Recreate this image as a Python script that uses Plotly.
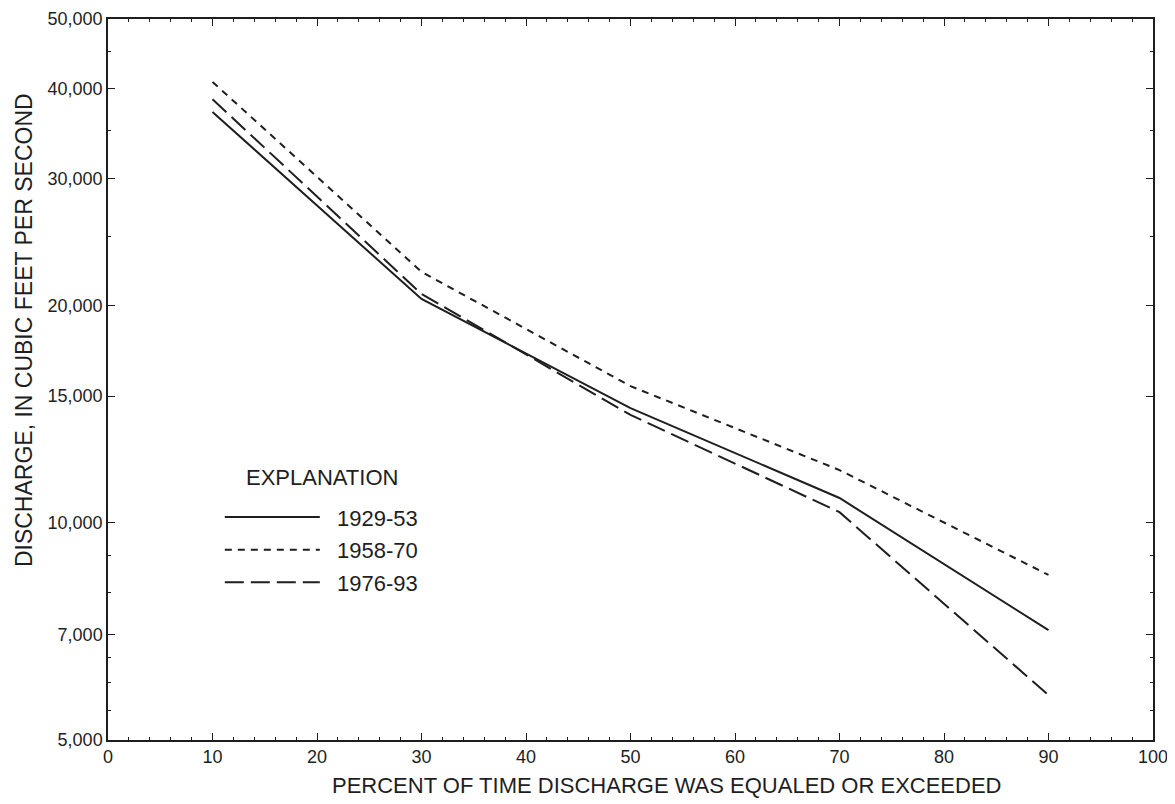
import plotly.graph_objects as go

percent = [10, 30, 50, 70, 90]
q_1929_53 = [37150, 20450, 14430, 10830, 7100]
q_1958_70 = [40900, 22300, 15480, 11840, 8470]
q_1976_93 = [38700, 20780, 14120, 10350, 5770]

series_names = ["1929-53", "1958-70", "1976-93"]

y_tickvals = [5000, 7000, 10000, 15000, 20000, 30000, 40000, 50000]
y_ticktext = ["5,000", "7,000", "10,000", "15,000", "20,000", "30,000", "40,000", "50,000"]
y_minor = [5500, 6000, 6500, 8000, 9000, 25000, 35000, 45000]
x_tickvals = [0, 10, 20, 30, 40, 50, 60, 70, 80, 90, 100]

x_title = "PERCENT OF TIME DISCHARGE WAS EQUALED OR EXCEEDED"
y_title = "DISCHARGE, IN CUBIC FEET PER SECOND"
legend_title = "EXPLANATION"

ink = "#1e1e1e"
font = "Liberation Sans, Arial, sans-serif"
pad = "\u00a0\u00a0"

fig = go.Figure()
for name, vals, dash in zip(series_names, [q_1929_53, q_1958_70, q_1976_93],
                            ["solid", "7px,6px", "19px,7px"]):
    fig.add_trace(go.Scatter(x=percent, y=vals, mode="lines", name=pad + name,
                             legendgroup=name,
                             line=dict(color=ink, width=2, dash=dash)))

fig.update_layout(
    width=1167, height=796,
    margin=dict(l=100, r=22, t=11, b=64, autoexpand=False),
    paper_bgcolor="white", plot_bgcolor="white",
    font=dict(family=font, size=18, color=ink),
    showlegend=True,
    legend=dict(
        x=0.107, y=0.338, xanchor="left", yanchor="top",
        bgcolor="rgba(0,0,0,0)",
        itemwidth=95, tracegroupgap=1,
        font=dict(size=22),
    ),
    xaxis=dict(
        range=[0, 100], tickmode="array", tickvals=x_tickvals,
        ticks="inside", ticklen=7, tickwidth=1.2, tickcolor=ink,
        showline=True, linecolor=ink, linewidth=1.5, mirror="allticks",
        showgrid=False, zeroline=False, automargin=False,
        minor=dict(dtick=2, tick0=0, ticks="inside", ticklen=3.5, tickcolor=ink, tickwidth=1, showgrid=False),
        tickfont=dict(size=18),
    ),
    yaxis=dict(
        type="log", range=[3.69897, 4.69897],
        tickmode="array", tickvals=y_tickvals, ticktext=y_ticktext,
        ticks="inside", ticklen=7, tickwidth=1.2, tickcolor=ink,
        showline=True, linecolor=ink, linewidth=1.5, mirror="allticks",
        showgrid=False, zeroline=False, automargin=False,
        minor=dict(tickmode="array", tickvals=y_minor, ticks="inside", ticklen=3.5, tickcolor=ink, tickwidth=1, showgrid=False),
        tickfont=dict(size=18),
    ),
    annotations=[
        dict(text=x_title, xref="paper", yref="paper", x=0.535, y=-0.063,
             xanchor="center", yanchor="middle", showarrow=False,
             font=dict(size=22, family=font, color=ink)),
        dict(text=y_title, xref="paper", yref="paper", x=-0.081, y=0.569,
             xanchor="center", yanchor="middle", showarrow=False, textangle=-90,
             font=dict(size=23, family=font, color=ink)),
        dict(text=legend_title, xref="paper", yref="paper", x=0.205, y=0.3634,
             xanchor="center", yanchor="middle", showarrow=False,
             font=dict(size=22, family=font, color=ink)),
    ],
)

fig.write_html("out.html")
